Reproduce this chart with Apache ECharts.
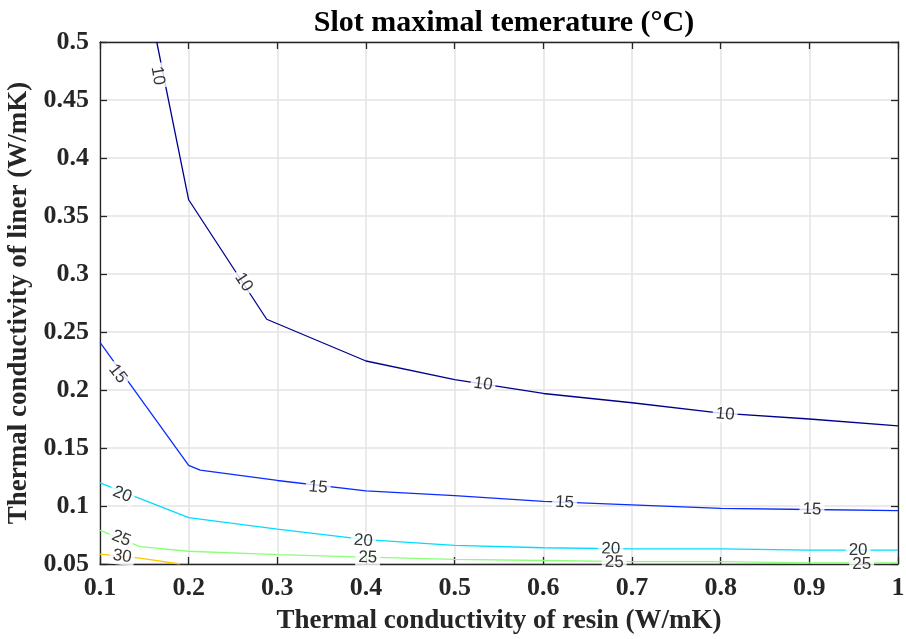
<!DOCTYPE html>
<html>
<head>
<meta charset="utf-8">
<title>Slot maximal temperature</title>
<script src="https://cdn.jsdelivr.net/npm/echarts@6/dist/echarts.min.js"></script>
</head>
<body style="margin:0">
<div id="chart" style="width:906px;height:639px"></div>
<script>
// contour levels and their lines ([resin k, liner k])
var levels = [10, 15, 20, 25, 30];
var colors = ['#00008f', '#0a2cff', '#00dcff', '#8cff78', '#ffc800'];

var line10 = [[0.164, 0.5], [0.2, 0.364], [0.288, 0.261], [0.4, 0.225], [0.5, 0.209], [0.6, 0.197], [0.7, 0.189], [0.8, 0.180], [0.9, 0.175], [1.0, 0.169]];
var line15 = [[0.1, 0.241], [0.2, 0.135], [0.213, 0.131], [0.3, 0.122], [0.4, 0.113], [0.5, 0.109], [0.6, 0.104], [0.7, 0.101], [0.8, 0.098], [0.9, 0.097], [1.0, 0.096]];
var line20 = [[0.1, 0.120], [0.2, 0.090], [0.3, 0.080], [0.4, 0.071], [0.5, 0.066], [0.6, 0.064], [0.7, 0.063], [0.8, 0.063], [0.9, 0.062], [1.0, 0.062]];
var line25 = [[0.1, 0.079], [0.145, 0.065], [0.2, 0.061], [0.3, 0.058], [0.4, 0.056], [0.5, 0.054], [0.6, 0.053], [0.7, 0.052], [0.8, 0.052], [0.9, 0.051], [1.0, 0.051]];
var line30 = [[0.1, 0.0586], [0.145, 0.055], [0.19, 0.05]];
var lines = [line10, line15, line20, line25, line30];

// inline labels: [x, y, rotation]
var labels10 = [[0.165, 0.471, -80], [0.262, 0.293, -56], [0.532, 0.205, -8], [0.805, 0.179, -5]];
var labels15 = [[0.120, 0.214, -52], [0.346, 0.116, -5], [0.624, 0.103, -3], [0.903, 0.097, -2]];
var labels20 = [[0.125, 0.110, -22], [0.397, 0.070, -4], [0.676, 0.063, -1], [0.955, 0.062, 0]];
var labels25 = [[0.124, 0.072, -22], [0.402, 0.0555, -2], [0.680, 0.0515, -1], [0.959, 0.050, 0]];
var labels30 = [[0.125, 0.0565, -8]];
var labelSets = [labels10, labels15, labels20, labels25, labels30];

var xTicks = { min: 0.1, max: 1, step: 0.1 };
var yTicks = { min: 0.05, max: 0.5, step: 0.05 };

var serif = 'Liberation Serif';
var fmt = function (v) { return String(+v.toFixed(2)); };

var series = [];
levels.forEach(function (lv, i) {
  series.push({
    type: 'line', data: lines[i], symbol: 'none', silent: true, z: 2,
    lineStyle: { color: colors[i], width: 1.3 }
  });
});
levels.forEach(function (lv, i) {
  series.push({
    type: 'scatter', symbol: 'circle', symbolSize: 2, silent: true, z: 3,
    itemStyle: { color: 'rgba(255,255,255,0)' },
    data: labelSets[i].map(function (p) {
      return { value: [p[0], p[1]], label: { rotate: p[2] } };
    }),
    label: {
      show: true, position: 'inside', formatter: String(lv),
      fontFamily: 'Liberation Sans', fontSize: 17, color: '#000',
      backgroundColor: '#fff', padding: [0, 3]
    }
  });
});

var axisBase = {
  type: 'value',
  axisLine: { show: true, onZero: false, lineStyle: { color: '#262626', width: 1.3 } },
  axisTick: { show: true, inside: true, length: 7, lineStyle: { color: '#262626', width: 1.3 } }
};

var chart = echarts.init(document.getElementById('chart'));
chart.setOption({
  backgroundColor: '#fff',
  animation: false,
  title: {
    text: 'Slot maximal temerature (°C)', left: 499, top: 3, textAlign: 'center',
    textStyle: { fontFamily: serif, fontWeight: 'bold', fontSize: 30, color: '#000' }
  },
  grid: { left: 100, right: 8, top: 42, bottom: 75, outerBoundsMode: 'none' },
  xAxis: [
    Object.assign({}, axisBase, {
      min: xTicks.min, max: xTicks.max, interval: xTicks.step, position: 'bottom',
      name: 'Thermal conductivity of resin (W/mK)', nameLocation: 'middle', nameGap: 44,
      nameTextStyle: { fontFamily: serif, fontWeight: 'bold', fontSize: 27, color: '#262626' },
      axisLabel: { fontFamily: serif, fontWeight: 'bold', fontSize: 26, color: '#262626', margin: 11, formatter: fmt },
      splitLine: { show: true, lineStyle: { color: '#e3e3e3', width: 1.5 } }
    }),
    Object.assign({}, axisBase, {
      min: xTicks.min, max: xTicks.max, interval: xTicks.step, position: 'top',
      axisLabel: { show: false }, splitLine: { show: false }
    })
  ],
  yAxis: [
    Object.assign({}, axisBase, {
      min: yTicks.min, max: yTicks.max, interval: yTicks.step, position: 'left',
      name: 'Thermal conductivity of liner (W/mK)', nameLocation: 'middle', nameGap: 58,
      nameTextStyle: { fontFamily: serif, fontWeight: 'bold', fontSize: 27, color: '#262626' },
      axisLabel: { fontFamily: serif, fontWeight: 'bold', fontSize: 26, color: '#262626', margin: 11, formatter: fmt },
      splitLine: { show: true, lineStyle: { color: '#e3e3e3', width: 1.5 } }
    }),
    Object.assign({}, axisBase, {
      min: yTicks.min, max: yTicks.max, interval: yTicks.step, position: 'right',
      axisLabel: { show: false }, splitLine: { show: false }
    })
  ],
  series: series
});
</script>
</body>
</html>
